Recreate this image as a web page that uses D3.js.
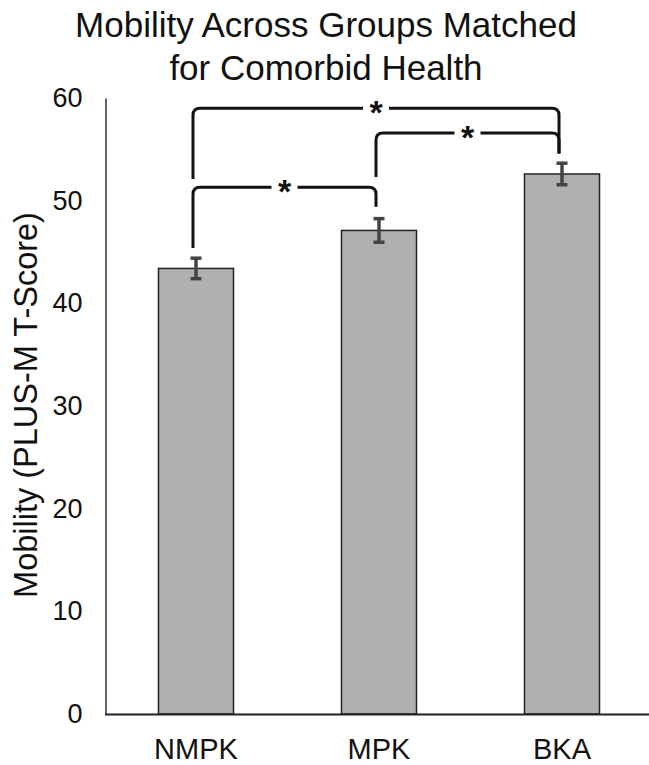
<!DOCTYPE html>
<html>
<head>
<meta charset="utf-8">
<script src="https://cdn.jsdelivr.net/npm/d3@7"></script>
<style>
  body { margin: 0; background: #fff; }
  text { font-family: "Liberation Sans", Arial, sans-serif; }
</style>
</head>
<body>
<svg width="649" height="765"></svg>
<script>
var groups = ["NMPK", "MPK", "BKA"];
var means = [43.4, 47.1, 52.6];
var errs = [1.0, 1.15, 1.05];
var yTicks = [0, 10, 20, 30, 40, 50, 60];
// significance brackets: from group, to group, bracket level, left leg end, right leg end
var bracketFrom = ["NMPK", "NMPK", "MPK"];
var bracketTo = ["MPK", "BKA", "BKA"];
var bracketLevel = [51.3, 59.0, 56.6];
var bracketLeftEnd = [45.4, 52.1, 52.3];
var bracketRightEnd = [49.4, 54.6, 54.6];

var svg = d3.select("svg");

var x = d3.scaleBand().domain(groups).range([104.5, 653.5]).paddingInner(0.59).paddingOuter(0.295);
var y = d3.scaleLinear().domain([0, 60]).range([714, 98]);

// title
svg.append("text").text("Mobility Across Groups Matched")
  .attr("x", 326).attr("y", 37).attr("text-anchor", "middle")
  .attr("font-size", 35).attr("fill", "#111");
svg.append("text").text("for Comorbid Health")
  .attr("x", 326).attr("y", 80).attr("text-anchor", "middle")
  .attr("font-size", 35).attr("fill", "#111");

// y axis
var yAxis = d3.axisLeft(y).tickValues(yTicks).tickSize(0).tickPadding(23);
var gy = svg.append("g").attr("transform", "translate(105.5,0)").call(yAxis);
gy.select(".domain").attr("stroke", "#333").attr("stroke-width", 1.5);
gy.selectAll("text").attr("font-size", 27).attr("fill", "#111")
  .attr("font-family", "Liberation Sans, Arial, sans-serif");

svg.append("text").text("Mobility (PLUS-M T-Score)")
  .attr("transform", "translate(37,405) rotate(-90)")
  .attr("text-anchor", "middle").attr("font-size", 32.5).attr("fill", "#111");

// bars
svg.selectAll("rect.bar").data(groups).enter().append("rect")
  .attr("class", "bar")
  .attr("x", function(d) { return x(d); })
  .attr("width", x.bandwidth())
  .attr("y", function(d, i) { return y(means[i]); })
  .attr("height", function(d, i) { return y(0) - y(means[i]); })
  .attr("fill", "#b0b0b0").attr("stroke", "#222").attr("stroke-width", 1.5);

// x axis
var xAxis = d3.axisBottom(x).tickSize(0).tickPadding(24);
var gx = svg.append("g").attr("transform", "translate(0," + y(0) + ")").call(xAxis);
gx.select(".domain").attr("stroke", "#222").attr("stroke-width", 2);
gx.selectAll("text").attr("font-size", 29).attr("fill", "#111")
  .attr("font-family", "Liberation Sans, Arial, sans-serif");

// error bars
var eb = svg.selectAll("g.err").data(groups).enter().append("g").attr("class", "err")
  .attr("stroke", "#444").attr("stroke-width", 3.5);
eb.append("line")
  .attr("x1", function(d) { return x(d) + x.bandwidth() / 2; })
  .attr("x2", function(d) { return x(d) + x.bandwidth() / 2; })
  .attr("y1", function(d, i) { return y(means[i] + errs[i]); })
  .attr("y2", function(d, i) { return y(means[i] - errs[i]); });
[1, -1].forEach(function(s) {
  eb.append("line")
    .attr("x1", function(d) { return x(d) + x.bandwidth() / 2 - 5.5; })
    .attr("x2", function(d) { return x(d) + x.bandwidth() / 2 + 5.5; })
    .attr("y1", function(d, i) { return y(means[i] + s * errs[i]); })
    .attr("y2", function(d, i) { return y(means[i] + s * errs[i]); });
});

// significance brackets
var r = 7;
bracketFrom.forEach(function(g, i) {
  var x1 = x(g) + x.bandwidth() / 2 - 3;
  var x2 = x(bracketTo[i]) + x.bandwidth() / 2 - 3;
  var yl = y(bracketLevel[i]);
  var y1 = y(bracketLeftEnd[i]);
  var y2 = y(bracketRightEnd[i]);
  var xm = (x1 + x2) / 2;
  var gap = 13;
  var p = d3.path();
  p.moveTo(x1, y1);
  p.lineTo(x1, yl + r);
  p.quadraticCurveTo(x1, yl, x1 + r, yl);
  p.lineTo(xm - gap, yl);
  p.moveTo(xm + gap, yl);
  p.lineTo(x2 - r, yl);
  p.quadraticCurveTo(x2, yl, x2, yl + r);
  p.lineTo(x2, y2);
  svg.append("path").attr("d", p.toString())
    .attr("fill", "none").attr("stroke", "#111").attr("stroke-width", 3);
  svg.append("text").text("*")
    .attr("x", xm).attr("y", yl + 16)
    .attr("text-anchor", "middle").attr("font-size", 34).attr("font-weight", "bold").attr("fill", "#111");
});
</script>
</body>
</html>
